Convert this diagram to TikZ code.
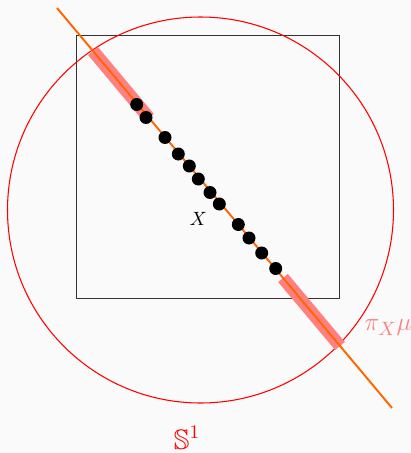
\documentclass[tikz,border=0pt]{standalone}
\usepackage{amsmath}
\usepackage{amssymb}
\usepackage{tikz}
\usetikzlibrary{calc}
\definecolor{bgpaper}{RGB}{250,250,250}
\definecolor{lineorange}{RGB}{255,102,0}
\definecolor{bandpink}{RGB}{255,128,128}

\begin{document}
\begin{tikzpicture}[
  x=0.02cm, y=-0.02cm,
  frame/.style={draw=black!80, line width=0.5pt},
  sphere/.style={draw=red, line width=0.6pt},
  fiber/.style={draw=lineorange, line width=1.1pt},
  band/.style={draw=bandpink, line width=7.2pt},
  dot/.style={circle, fill=black, inner sep=0pt, minimum size=0.26cm}
]
  % Background
  \fill[bgpaper] (0,0) rectangle (411,453);
  \useasboundingbox (0,0) rectangle (411,453);
  % Square and circle
  \draw[frame] (76,35) rectangle (339,298);
  \draw[sphere] (200.5,210) circle[radius=193];
  % Line ends and band ends
  \coordinate (lstart) at (57,8);
  \coordinate (lend) at (392,408);
  \coordinate (bandAa) at (93,51);
  \coordinate (bandAb) at (149,118);
  \coordinate (bandBa) at (283,278);
  \coordinate (bandBb) at (340,346);
  % Projected measure
  \draw[band] (bandAa) -- (bandAb);
  \draw[band] (bandBa) -- (bandBb);
  \draw[fiber] (lstart) -- (lend);
  % Points
  \foreach \i/\px/\py in {1/136.7/104.5, 2/146/117.5, 3/165/137.5, 4/178.3/154,
      5/189.3/166, 6/198.3/179, 7/210/192.5, 8/219.3/204,
      9/238.3/224.5, 10/249/238, 11/261.7/253, 12/275.7/268.5}
    \node[dot] (p\i) at (\px,\py) {};
  % Labels
  \node[font=\fontsize{11}{13}\selectfont] (xlab) at (198.3,219) {$X$};
  \node[text=bandpink, font=\fontsize{15}{17}\selectfont] (pilab) at (388,328) {$\pi_X\mu$};
  \node[text=red, font=\fontsize{16}{18}\selectfont] (slab) at (187,438) {$\mathbb{S}^1$};
\end{tikzpicture}
\end{document}
